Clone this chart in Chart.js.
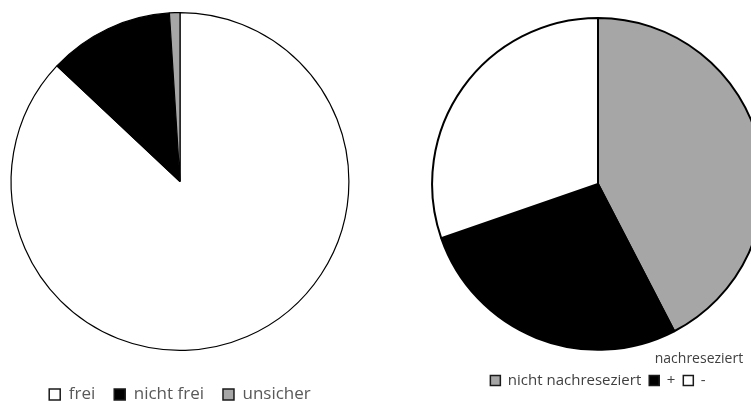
<!DOCTYPE html>
<html>
<head>
<meta charset="utf-8">
<script src="https://cdn.jsdelivr.net/npm/chart.js@4"></script>
<style>
  html, body { margin: 0; padding: 0; background: #fff; overflow: hidden; }
  #page { position: relative; width: 751px; height: 402px; overflow: hidden; }
  #leftBox { position: absolute; left: 0; top: 0; width: 360px; height: 413px; }
  #rightBox { position: absolute; left: 431px; top: 0; width: 334px; height: 398px; }
</style>
</head>
<body>
<div id="page">
  <div id="leftBox"><canvas id="chartLeft"></canvas></div>
  <div id="rightBox"><canvas id="chartRight"></canvas></div>
</div>
<script>
// linkes Diagramm
const leftLabels = ["frei", "nicht frei", "unsicher"];
const leftValues = [87, 12, 1];
const leftColors = ["#ffffff", "#000000", "#a6a6a6"];

// rechtes Diagramm
const rightTitle = "nachreseziert";
const rightLabels = ["nicht nachreseziert", "+", "-"];
const rightValues = [42.4, 27.3, 30.3];
const rightColors = ["#a6a6a6", "#000000", "#ffffff"];

// Legendenkästchen mit dickerem Rand
function boxLabels(chart) {
  const items = Chart.overrides.pie.plugins.legend.labels.generateLabels(chart);
  items.forEach(it => { it.lineWidth = 1.5; it.strokeStyle = "#1a1a1a"; });
  return items;
}

new Chart(document.getElementById("chartLeft"), {
  type: "pie",
  data: {
    labels: leftLabels,
    datasets: [{
      data: leftValues,
      backgroundColor: leftColors,
      borderColor: "#000000",
      borderWidth: 1.2
    }]
  },
  options: {
    responsive: true,
    maintainAspectRatio: false,
    animation: false,
    layout: { padding: { top: 12 } },
    plugins: {
      tooltip: { enabled: false },
      legend: {
        position: "bottom",
        title: { display: true, text: "", font: { size: 16, lineHeight: 1 }, padding: 0 },
        labels: {
          boxWidth: 11, boxHeight: 11, padding: 19,
          color: "#595959",
          font: { family: "'Open Sans'", size: 17 },
          generateLabels: boxLabels
        }
      }
    }
  }
});

new Chart(document.getElementById("chartRight"), {
  type: "pie",
  data: {
    labels: rightLabels,
    datasets: [{
      data: rightValues,
      backgroundColor: rightColors,
      borderColor: "#000000",
      borderWidth: 2
    }]
  },
  options: {
    responsive: true,
    maintainAspectRatio: false,
    animation: false,
    layout: { padding: { top: 17 } },
    plugins: {
      tooltip: { enabled: false },
      // Titel zwischen Kreis und Legende, rechtsbündig
      title: {
        display: true,
        text: rightTitle + "      ",
        position: "bottom",
        weight: 500,
        align: "end",
        color: "#404040",
        font: { family: "'Open Sans'", size: 14, weight: "normal", lineHeight: 0.8 },
        padding: { top: 3, bottom: 0 }
      },
      legend: {
        position: "bottom",
        labels: {
          boxWidth: 10, boxHeight: 10, padding: 8,
          color: "#404040",
          font: { family: "'Open Sans'", size: 15 },
          generateLabels: boxLabels
        }
      }
    }
  }
});
</script>
</body>
</html>
